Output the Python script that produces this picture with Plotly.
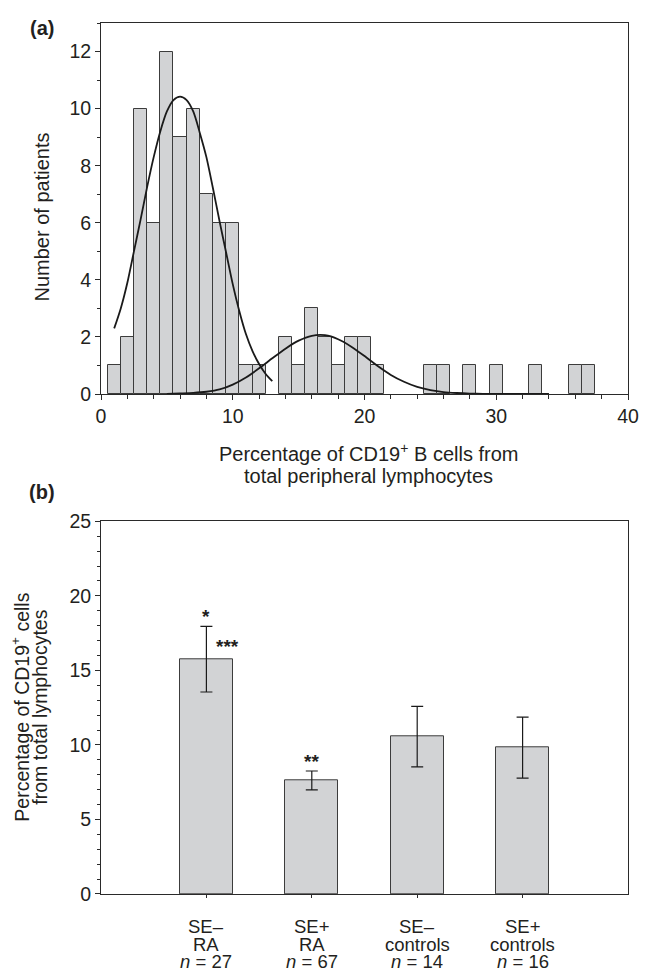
import plotly.graph_objects as go

# ---------------- Panel (a): histogram data ----------------
bin_centers = [1, 2, 3, 4, 5, 6, 7, 8, 9, 10, 11, 12,
               14, 15, 16, 17, 18, 19, 20, 21,
               25, 26, 28, 30, 33, 36, 37]
patient_counts = [1, 2, 10, 6, 12, 9, 10, 7, 6, 6, 1, 1,
                  2, 1, 3, 2, 1, 2, 2, 1,
                  1, 1, 1, 1, 1, 1, 1]

# fitted curve 1
fit1_x = [1.0, 1.5, 2.0, 2.5, 3.0, 3.5, 4.0, 4.5, 5.0, 5.5, 6.0, 6.5, 7.0,
          7.5, 8.0, 8.5, 9.0, 9.5, 10.0, 10.5, 11.0, 11.5, 12.0, 12.5, 13.0]
fit1_y = [2.3, 3.0, 3.9, 5.0, 6.1, 7.25, 8.3, 9.2, 9.9, 10.3, 10.42, 10.3, 9.9,
          9.15, 8.3, 7.2, 6.05, 4.95, 3.85, 2.9, 2.1, 1.5, 1.05, 0.7, 0.45]

# fitted curve 2
fit2_x = [5, 6, 7, 8, 9, 10, 11, 12, 13, 14, 15, 16, 17, 18, 19, 20,
          21, 22, 23, 24, 25, 26, 27, 28, 29, 30, 32, 34]
fit2_y = [0.0, 0.02, 0.04, 0.08, 0.16, 0.33, 0.58, 0.9, 1.25, 1.59, 1.87, 2.04,
          2.06, 1.92, 1.66, 1.33, 0.98, 0.67, 0.43, 0.25, 0.14, 0.07, 0.035,
          0.015, 0.006, 0.003, 0.0, 0.0]

# ---------------- Panel (b): bar data ----------------
group_line1 = ["SE\u2013", "SE+", "SE\u2013", "SE+"]
group_line2 = ["RA", "RA", "controls", "controls"]
group_n = [27, 67, 14, 16]
mean_pct = [15.75, 7.62, 10.56, 9.82]
sem_pct = [2.2, 0.63, 2.03, 2.05]
stars_above = ["*", "**", "", ""]
stars_side = ["***", "", "", ""]

positions = list(range(1, len(group_line1) + 1))

FONT = "Liberation Sans, Arial, Helvetica, sans-serif"
TXT = "#231f20"
BAR_FILL = "#d2d3d5"
BAR_LINE = "#3c3c3c"
AX = "#2a2a2a"

fig = go.Figure()

fig.add_trace(go.Bar(
    x=bin_centers, y=patient_counts, width=1,
    marker=dict(color=BAR_FILL, line=dict(color=BAR_LINE, width=1)),
    xaxis="x", yaxis="y", showlegend=False, hoverinfo="x+y"))

fig.add_trace(go.Scatter(
    x=fit1_x, y=fit1_y, mode="lines",
    line=dict(color="#1a1a1a", width=1.8, shape="spline", smoothing=0.8),
    xaxis="x", yaxis="y", showlegend=False))

fig.add_trace(go.Scatter(
    x=fit2_x, y=fit2_y, mode="lines",
    line=dict(color="#1a1a1a", width=1.8, shape="spline", smoothing=0.6),
    xaxis="x", yaxis="y", showlegend=False))

fig.add_trace(go.Bar(
    x=positions, y=mean_pct, width=0.5,
    marker=dict(color=BAR_FILL, line=dict(color=BAR_LINE, width=1)),
    error_y=dict(type="data", array=sem_pct, visible=True,
                 color="#1a1a1a", thickness=1.2, width=6),
    xaxis="x2", yaxis="y2", showlegend=False))

axis_common = dict(showline=True, linecolor=AX, linewidth=1, mirror=True,
                   ticks="outside", tickcolor=AX, tickwidth=1,
                   showgrid=False, zeroline=False,
                   tickfont=dict(family=FONT, size=19.5, color=TXT))

top_domain = [(894 - 390) / 878, 1.0]
bot_domain = [0.0, (894 - 518.3) / 878]

fig.update_layout(
    width=651, height=972,
    margin=dict(l=101, r=14, t=16, b=78),
    paper_bgcolor="white", plot_bgcolor="white",
    bargap=0,
    font=dict(family=FONT, color=TXT),
    xaxis=dict(domain=[0, 1], anchor="y", range=[0, 40], tick0=0, dtick=10,
               ticklen=5,
               minor=dict(dtick=2, ticks="outside", ticklen=4, tickcolor=AX),
               **axis_common),
    yaxis=dict(domain=top_domain, anchor="x", range=[0, 13], tick0=0, dtick=2,
               ticklen=5,
               minor=dict(dtick=1, ticks="outside", ticklen=3, tickcolor=AX),
               **axis_common),
    xaxis2=dict(domain=[0, 1], anchor="y2", range=[0, 5],
                tickvals=positions, showticklabels=False, ticklen=3,
                **axis_common),
    yaxis2=dict(domain=bot_domain, anchor="x2", range=[0, 25], tick0=0, dtick=5,
                ticklen=5,
                minor=dict(dtick=1, ticks="outside", ticklen=3, tickcolor=AX),
                **axis_common),
)

ann = []
# panel labels
for label, ypix in (("(a)", 20.7), ("(b)", 489)):
    ann.append(dict(text=f"<b>{label}</b>", xref="paper", yref="paper",
                    x=0, xshift=41.7 - 101, y=(894 - ypix) / 878,
                    xanchor="center", yanchor="middle",
                    showarrow=False, font=dict(size=20, family=FONT, color=TXT)))

# top axis titles
ann.append(dict(text="Number of patients", xref="paper", yref="paper",
                x=0, xshift=-59, y=sum(top_domain) / 2, yshift=-9,
                xanchor="center", yanchor="middle",
                textangle=-90, showarrow=False,
                font=dict(size=20, family=FONT, color=TXT)))
xt_lines = ["Percentage of CD19<sup>+</sup> B cells from",
            "total peripheral lymphocytes"]
for k, line in enumerate(xt_lines):
    ann.append(dict(text=line, xref="paper", yref="y", x=0.5, xshift=4,
                    y=0, yshift=-58 - 23.7 * k,
                    xanchor="center", yanchor="middle",
                    showarrow=False, font=dict(size=20, family=FONT, color=TXT)))

# bottom y title (two lines)
yt_lines = ["Percentage of CD19<sup>+</sup> cells", "from total lymphocytes"]
for k, line in enumerate(yt_lines):
    ann.append(dict(text=line, xref="paper", yref="paper",
                    x=0, xshift=-81 + 20 * k, y=sum(bot_domain) / 2,
                    xanchor="center", yanchor="middle",
                    textangle=-90, showarrow=False,
                    font=dict(size=19.5, family=FONT, color=TXT)))

# category labels (three lines each)
for p, l1, l2, n in zip(positions, group_line1, group_line2, group_n):
    for k, line in enumerate([l1, l2, f"<i>n</i> = {n}"]):
        ann.append(dict(text=line, xref="x2", yref="y2", x=p, y=0,
                        xanchor="center", yanchor="middle",
                        yshift=-33 - 17.5 * k,
                        showarrow=False,
                        font=dict(size=18.5, family=FONT, color=TXT)))

# significance stars
for p, m, e, s_top, s_side in zip(positions, mean_pct, sem_pct, stars_above, stars_side):
    if s_top:
        ann.append(dict(text=f"<b>{s_top}</b>", xref="x2", yref="y2",
                        x=p, y=m + e, xanchor="center", yanchor="bottom",
                        yshift=-3, showarrow=False,
                        font=dict(size=19, family=FONT, color=TXT)))
    if s_side:
        ann.append(dict(text=f"<b>{s_side}</b>", xref="x2", yref="y2",
                        x=p, xshift=21, y=m, xanchor="center", yanchor="bottom",
                        yshift=0, showarrow=False,
                        font=dict(size=19, family=FONT, color=TXT)))

fig.update_layout(annotations=ann)

fig.write_html(
    "out.html",
    config={"displayModeBar": False},
    post_script="document.body.style.margin='0';"
                "document.body.style.overflow='hidden';")
